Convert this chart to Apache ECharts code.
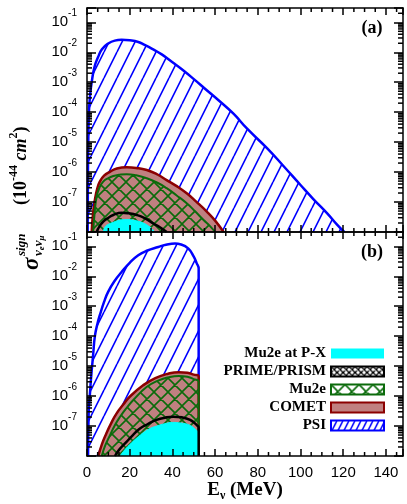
<!DOCTYPE html>
<html>
<head>
<meta charset="utf-8">
<script src="https://cdn.jsdelivr.net/npm/echarts@6/dist/echarts.min.js"></script>
<style>
html, body { margin: 0; padding: 0; background: #fff; }
#chart { width: 407px; height: 504px; }
</style>
</head>
<body>
<div id="chart"></div>
<script>
// E in MeV, sigma in 1e-44 cm^2
const X_MAX = 148;
const Y_MIN = 1e-8, Y_MAX = 0.3;

// panel (a)
const psiA_E = [0.3, 0.45, 0.6, 0.9, 1.5, 2.2, 3.5, 5.2, 7, 9.9, 13, 16.2, 20, 24, 27, 30.3, 35, 39.7, 45, 50.6, 55, 61.6, 68.6, 75, 84.3, 92, 100, 106, 112.5, 117, 120.5];
const psiA_S = [1e-8, 1e-6, 1e-5, 1e-4, 4e-4, 1e-3, 3.2e-3, 6.9e-3, 1.26e-2, 1.95e-2, 2.45e-2, 2.6e-2, 2.5e-2, 2.2e-2, 1.75e-2, 1.33e-2, 8.5e-3, 4.8e-3, 2.5e-3, 1.17e-3, 6.3e-4, 2.5e-4, 8.9e-5, 2.8e-5, 6.3e-6, 1.6e-6, 3.7e-7, 1.26e-7, 4.2e-8, 1.8e-8, 1e-8];
const cometA_E = [2.2, 2.8, 3.7, 4.8, 6, 8, 10.7, 14, 18.6, 23, 28, 33, 37.3, 42, 46.7, 51, 56.1, 60, 64];
const cometA_S = [1e-8, 4e-8, 1.17e-7, 2.8e-7, 4.8e-7, 7.6e-7, 1.02e-6, 1.32e-6, 1.45e-6, 1.38e-6, 1.17e-6, 8.3e-7, 5.4e-7, 3.4e-7, 1.95e-7, 1.05e-7, 4.8e-8, 2.4e-8, 1e-8];
const mu2eA_E = [2.9, 3.6, 4.5, 5.8, 7.6, 10, 12.3, 15, 18.6, 23, 28, 33, 37.3, 42, 46.7, 50.5, 54.6, 57.5, 60];
const mu2eA_S = [1e-8, 4.5e-8, 1.5e-7, 3e-7, 4.8e-7, 6.3e-7, 7.4e-7, 8.1e-7, 8.5e-7, 7.8e-7, 6.2e-7, 4.4e-7, 2.9e-7, 1.66e-7, 9.1e-8, 5e-8, 2.5e-8, 1.6e-8, 1e-8];
const primeA_E = [4.5, 5.5, 7.6, 10, 12.3, 16.2, 19.5, 23.2, 27, 31, 34.5, 37.3];
const primeA_S = [1e-8, 1.4e-8, 2.2e-8, 3e-8, 3.7e-8, 4.4e-8, 4.2e-8, 3.7e-8, 2.9e-8, 1.95e-8, 1.38e-8, 1e-8];
const pxA_E = [7.6, 8.5, 10, 12.3, 15.5, 18.6, 22, 26.3, 29.5, 31.8];
const pxA_S = [1e-8, 1.5e-8, 1.8e-8, 2.1e-8, 2.5e-8, 2.6e-8, 2.45e-8, 2e-8, 1.45e-8, 1e-8];

// panel (b)
const psiB_E = [0.5, 0.8, 1.3, 1.9, 2.9, 3.7, 5, 6, 8, 9.9, 13, 16.2, 20, 24, 28, 33.4, 37, 41.2, 44, 47.5, 50, 51.3, 52.3, 52.3];
const psiB_S = [1e-8, 3.2e-7, 1e-6, 4e-6, 2.5e-5, 1e-4, 2.8e-4, 5e-4, 1.4e-3, 3e-3, 7.1e-3, 1.38e-2, 2.8e-2, 5e-2, 7.1e-2, 9.5e-2, 0.112, 0.123, 0.115, 8.3e-2, 4.5e-2, 2.8e-2, 1.8e-2, 1e-8];
const cometB_E = [5.3, 7, 9.1, 11, 13.8, 17, 20, 26.3, 32, 38, 43, 47, 50, 52.3, 52.3];
const cometB_S = [1e-8, 2.5e-8, 5.8e-8, 1.12e-7, 2.6e-7, 5.2e-7, 9.5e-7, 2.3e-6, 4e-6, 5.6e-6, 6.3e-6, 6e-6, 5.2e-6, 4.5e-6, 1e-8];
const mu2eB_E = [6.9, 8.5, 10.8, 13, 15.4, 18.5, 21.7, 27.9, 33, 38, 43, 47, 50, 52.3, 52.3];
const mu2eB_S = [1e-8, 2.2e-8, 5e-8, 1.05e-7, 2e-7, 4e-7, 7.4e-7, 2e-6, 3.2e-6, 4.2e-6, 4.7e-6, 4.4e-6, 3.7e-6, 3e-6, 1e-8];
const primeB_E = [13.1, 15, 18.5, 21.5, 24.8, 28.5, 32.6, 36.5, 40.4, 44.5, 48.3, 51.4, 52.3, 52.3];
const primeB_S = [1e-8, 1.6e-8, 2.95e-8, 5e-8, 8.3e-8, 1.17e-7, 1.6e-7, 1.9e-7, 2.05e-7, 1.95e-7, 1.6e-7, 1.07e-7, 8.9e-8, 1e-8];
const pxB_E = [15.5, 17, 20, 25, 29, 32.6, 36.5, 40, 44, 48.3, 51.4, 52.3, 52.3];
const pxB_S = [1e-8, 1.4e-8, 2.4e-8, 5e-8, 7.9e-8, 1e-7, 1.2e-7, 1.32e-7, 1.26e-7, 1.05e-7, 7.1e-8, 6e-8, 1e-8];

const legendNames = ['Mu2e at P-X', 'PRIME/PRISM', 'Mu2e', 'COMET', 'PSI'];

// colours
const BLUE = '#0000ff', DRED = '#8b0000', GREEN = '#0b6b0b', BROWN = '#c08080', CYAN = '#00ffff';

// hatch patterns
function hatch(color, s, lw) {
    const c = document.createElement('canvas');
    c.width = s; c.height = 2 * s;
    const ctx = c.getContext('2d');
    ctx.strokeStyle = color; ctx.lineWidth = lw;
    ctx.beginPath();
    for (let k = -1; k <= 1; k++) { ctx.moveTo(k * s, 2 * s); ctx.lineTo(k * s + s, 0); }
    ctx.stroke();
    return { image: c, repeat: 'repeat' };
}
function cross(color, t, lw, bg) {
    const c = document.createElement('canvas');
    c.width = t; c.height = t;
    const ctx = c.getContext('2d');
    if (bg) { ctx.fillStyle = bg; ctx.fillRect(0, 0, t, t); }
    ctx.strokeStyle = color; ctx.lineWidth = lw;
    ctx.beginPath();
    for (let k = -1; k <= 1; k++) {
        ctx.moveTo(k * t, 0); ctx.lineTo(k * t + t, t);
        ctx.moveTo(k * t, t); ctx.lineTo(k * t + t, 0);
    }
    ctx.stroke();
    return { image: c, repeat: 'repeat' };
}
const psiFill = hatch(BLUE, 13, 1.6);
const mu2eFill = cross(GREEN, 14, 1.6);

function pairs(e, s) { return e.map((v, i) => [v, s[i]]); }

function curve(name, grid, e, s, color, width, fill, z) {
    return {
        name: name, type: 'line', xAxisIndex: grid * 2, yAxisIndex: grid * 2,
        data: pairs(e, s), showSymbol: false, symbol: 'none',
        smooth: 0.5, z: z, silent: true,
        lineStyle: { color: color, width: width },
        itemStyle: { color: color },
        areaStyle: fill ? { color: fill, opacity: 1, origin: 'start' } : null
    };
}

// minor ticks (x every 5 MeV, y log 2..9)
let minorData = [];
for (let v = 5; v < X_MAX; v += 5) if (v % 20 !== 0) minorData.push([0, v]);
for (let n = -8; n < 0; n++) for (let k = 2; k <= 9; k++) {
    const v = k * Math.pow(10, n);
    if (v < Y_MAX) minorData.push([1, v]);
}
function tickLine(x1, y1, x2, y2) {
    return { type: 'line', shape: { x1: x1, y1: y1, x2: x2, y2: y2 }, style: { stroke: '#000', lineWidth: 1.5 } };
}
function minorRender(params, api) {
    const kind = api.value(0), v = api.value(1);
    if (kind === 0) {
        const b = api.coord([v, Y_MIN]), t = api.coord([v, Y_MAX]);
        return { type: 'group', children: [tickLine(b[0], b[1], b[0], b[1] - 4), tickLine(t[0], t[1], t[0], t[1] + 4)] };
    }
    const l = api.coord([0, v]), r = api.coord([X_MAX, v]);
    return { type: 'group', children: [tickLine(l[0], l[1], l[0] + 5, l[1]), tickLine(r[0], r[1], r[0] - 5, r[1])] };
}
function minorSeries(grid) {
    return { type: 'custom', xAxisIndex: grid * 2, yAxisIndex: grid * 2, data: minorData,
        renderItem: minorRender, z: 20, silent: true };
}

const axLine = { show: true, onZero: false, lineStyle: { color: '#000', width: 1.5 } };

function xAx(grid, pos, labels) {
    return {
        type: 'value', gridIndex: grid, position: pos, min: 0, max: X_MAX, interval: 20, z: 10,
        axisLine: axLine,
        axisTick: { show: true, inside: true, length: 7, lineStyle: { color: '#000', width: 1.5 } },
        axisLabel: labels ? {
            margin: 9, fontSize: 15, fontFamily: 'Liberation Sans', color: '#000',
            formatter: v => (v % 20 === 0 ? String(v) : '')
        } : { show: false },
        splitLine: { show: false },
        name: labels ? '{e|E}{n|\u03bd}{m| (MeV)}' : '',
        nameLocation: 'middle', nameGap: 22,
        nameTextStyle: {
            rich: {
                e: { fontSize: 19, fontWeight: 'bold', fontFamily: 'Liberation Serif', color: '#000', lineHeight: 24 },
                n: { fontSize: 12, fontWeight: 'bold', fontFamily: 'Liberation Serif', color: '#000', verticalAlign: 'bottom', lineHeight: 14 },
                m: { fontSize: 19, fontWeight: 'bold', fontFamily: 'Liberation Serif', color: '#000', lineHeight: 24 }
            }
        }
    };
}
function yLabel(v) {
    const e = Math.log10(v), n = Math.round(e);
    if (Math.abs(e - n) > 0.01 || n <= -8) return '';
    return '{b|10}{s|' + n + '}';
}
function yAx(grid, pos, labels) {
    return {
        type: 'log', logBase: 10, gridIndex: grid, position: pos, min: Y_MIN, max: Y_MAX, z: 10,
        axisLine: axLine,
        axisTick: { show: true, inside: true, length: 9, lineStyle: { color: '#000', width: 1.5 } },
        axisLabel: labels ? {
            margin: 10, formatter: yLabel,
            rich: {
                b: { fontSize: 15, fontFamily: 'Liberation Sans', color: '#000', lineHeight: 28 },
                s: { fontSize: 10, fontFamily: 'Liberation Sans', color: '#000', verticalAlign: 'top', lineHeight: 12 }
            }
        } : { show: false },
        splitLine: { show: false }
    };
}

const serif = '"Liberation Serif", "DejaVu Serif", serif';

const option = {
    animation: false,
    backgroundColor: '#fff',
    grid: [
        { left: 87, right: 4, top: 8, height: 224 },
        { left: 87, right: 4, top: 232, height: 224 }
    ],
    xAxis: [xAx(0, 'bottom', false), xAx(0, 'top', false), xAx(1, 'bottom', true), xAx(1, 'top', false)],
    yAxis: [yAx(0, 'left', true), yAx(0, 'right', false), yAx(1, 'left', true), yAx(1, 'right', false)],
    legend: {
        orient: 'vertical', right: 17, top: 341, align: 'right',
        itemWidth: 53, itemHeight: 10, itemGap: 3, selectedMode: false,
        textStyle: { fontFamily: serif, fontWeight: 'bold', fontSize: 15, color: '#000' },
        data: [
            { name: legendNames[0], icon: 'rect', itemStyle: { color: CYAN, borderWidth: 0 } },
            { name: legendNames[1], icon: 'rect', itemStyle: { color: cross('#000', 6, 1.3, '#fff'), borderColor: '#000', borderWidth: 2 } },
            { name: legendNames[2], icon: 'rect', itemStyle: { color: cross(GREEN, 14, 1.6, '#fff'), borderColor: GREEN, borderWidth: 2 } },
            { name: legendNames[3], icon: 'rect', itemStyle: { color: BROWN, borderColor: DRED, borderWidth: 2 } },
            { name: legendNames[4], icon: 'rect', itemStyle: { color: hatch(BLUE, 6, 1.5), borderColor: BLUE, borderWidth: 2 } }
        ]
    },
    graphic: [
        { type: 'text', x: 372, y: 28, style: { text: '(a)', font: 'bold 18px ' + serif, fill: '#000', align: 'center', verticalAlign: 'middle' } },
        { type: 'text', x: 372, y: 252, style: { text: '(b)', font: 'bold 18px ' + serif, fill: '#000', align: 'center', verticalAlign: 'middle' } },
        // y-axis title, reading bottom to top
        { type: 'text', x: 32, y: 270, rotation: Math.PI / 2,
          style: { text: '\u03c3', font: 'italic bold 23px ' + serif, fill: '#000', align: 'left', verticalAlign: 'middle' } },
        { type: 'text', x: 22, y: 256, rotation: Math.PI / 2,
          style: { text: 'sign', font: 'italic bold 13px ' + serif, fill: '#000', align: 'left', verticalAlign: 'middle' } },
        { type: 'text', x: 39, y: 256, rotation: Math.PI / 2,
          style: { text: '{n|\u03bd}{s|e}{n|\u03bd}{s|\u03bc}', align: 'left', verticalAlign: 'middle',
            rich: {
                n: { font: 'italic bold 13px ' + serif, fill: '#000', lineHeight: 15 },
                s: { font: 'italic bold 9px ' + serif, fill: '#000', verticalAlign: 'bottom', lineHeight: 10 }
            } } },
        { type: 'text', x: 21, y: 205, rotation: Math.PI / 2,
          style: { text: '{m|(10}{p|-44}{c| cm}{p|2}{m|)}', align: 'left', verticalAlign: 'middle',
            rich: {
                m: { font: 'bold 18px ' + serif, fill: '#000', lineHeight: 26 },
                c: { font: 'italic bold 18px ' + serif, fill: '#000', lineHeight: 26 },
                p: { font: 'bold 12px ' + serif, fill: '#000', verticalAlign: 'top', lineHeight: 12 }
            } } }
    ],
    series: [
        curve('PSI', 0, psiA_E, psiA_S, BLUE, 2.5, psiFill, 2),
        curve('COMET', 0, cometA_E, cometA_S, DRED, 2.5, BROWN, 3),
        curve('Mu2e', 0, mu2eA_E, mu2eA_S, GREEN, 2, mu2eFill, 4),
        curve('Mu2e at P-X', 0, pxA_E, pxA_S, CYAN, 1, CYAN, 5),
        curve('PRIME/PRISM', 0, primeA_E, primeA_S, '#000', 2.5, null, 6),
        curve('PSI', 1, psiB_E, psiB_S, BLUE, 2.5, psiFill, 2),
        curve('COMET', 1, cometB_E, cometB_S, DRED, 2.5, BROWN, 3),
        curve('Mu2e', 1, mu2eB_E, mu2eB_S, GREEN, 2, mu2eFill, 4),
        curve('Mu2e at P-X', 1, pxB_E, pxB_S, CYAN, 1, CYAN, 5),
        curve('PRIME/PRISM', 1, primeB_E, primeB_S, '#000', 2.5, null, 6),
        minorSeries(0),
        minorSeries(1)
    ]
};

const myChart = echarts.init(document.getElementById('chart'));
myChart.setOption(option);
</script>
</body>
</html>
